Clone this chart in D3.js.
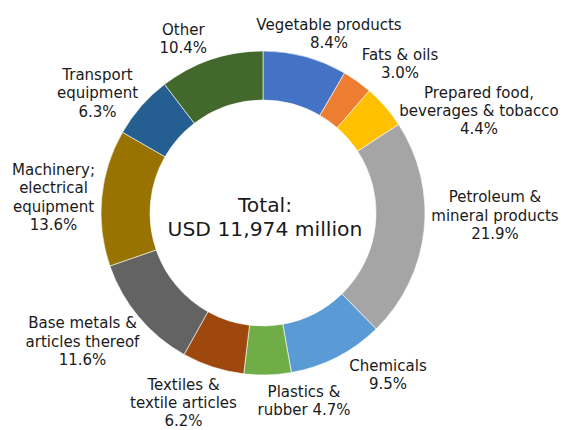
<!DOCTYPE html>
<html>
<head>
<meta charset="utf-8">
<script src="https://cdn.jsdelivr.net/npm/d3@7"></script>
<style>
  body { margin: 0; background: #fff; }
  text { font-family: "DejaVu Sans", Verdana, sans-serif; fill: #1a1a1a; }
</style>
</head>
<body>
<div id="viz"></div>
<script>
// data, clockwise from 12 o'clock
const categories = ['Vegetable products', 'Fats & oils', 'Prepared food', 'Petroleum & mineral products',
  'Chemicals', 'Plastics & rubber', 'Textiles & textile articles', 'Base metals & articles thereof',
  'Machinery; electrical equipment', 'Transport equipment', 'Other'];
const shares = [8.4, 3.0, 4.4, 21.9, 9.5, 4.7, 6.2, 11.6, 13.6, 6.3, 10.4];
const colors = ['#4472C4', '#ED7D31', '#FFC000', '#A5A5A5', '#5B9BD5', '#70AD47',
  '#9E480E', '#636363', '#997300', '#255E91', '#43682B'];
// how each label wraps, {p} = percentage
const labelLines = [
  ['Vegetable products', '{p}'],
  ['Fats & oils', '{p}'],
  ['Prepared food,', 'beverages & tobacco', '{p}'],
  ['Petroleum &', 'mineral products', '{p}'],
  ['Chemicals', '{p}'],
  ['Plastics &', 'rubber {p}'],
  ['Textiles &', 'textile articles', '{p}'],
  ['Base metals &', 'articles thereof', '{p}'],
  ['Machinery;', 'electrical', 'equipment', '{p}'],
  ['Transport', 'equipment', '{p}'],
  ['Other', '{p}']
];
const totalLines = ['Total:', 'USD 11,974 million'];

// layout
const width = 564, height = 430;
const cx = 263, cy = 213;
const outerR = 162, innerR = 113;
const lineH = 18.3;
// label anchor (centre x, first baseline y)
const labelPos = [[329, 30], [400, 60], [479, 97.7], [495, 202.3], [388, 371], [304, 396.7],
  [183.5, 390], [82.5, 328.3], [53.5, 175], [97.5, 80], [183.3, 35]];

const svg = d3.select('#viz')
  .append('svg')
  .attr('width', width)
  .attr('height', height);

const pie = d3.pie().sort(null).value(d => d);
const arc = d3.arc().innerRadius(innerR).outerRadius(outerR);

const g = svg.append('g')
  .attr('transform', `translate(${cx} ${cy})`);

g.selectAll('path')
  .data(pie(shares))
  .join('path')
  .attr('d', arc)
  .attr('fill', (d, i) => colors[i])
  .attr('stroke', '#fff')
  .attr('stroke-width', 0.6);

const fmt = d3.format('.1f');

const labels = svg.append('g')
  .attr('font-size', 15)
  .attr('text-anchor', 'middle');

labelLines.forEach((lines, i) => {
  const t = labels.append('text')
    .attr('x', labelPos[i][0])
    .attr('y', labelPos[i][1]);
  lines.forEach((ln, j) => {
    t.append('tspan')
      .attr('x', labelPos[i][0])
      .attr('dy', j === 0 ? 0 : (i === 6 ? 18 : lineH))
      .text(ln.replace('{p}', fmt(shares[i]) + '%'));
  });
});

const total = svg.append('text')
  .attr('x', 265)
  .attr('y', 212)
  .attr('font-size', 20.3)
  .attr('text-anchor', 'middle');

totalLines.forEach((ln, j) => {
  total.append('tspan')
    .attr('x', 265)
    .attr('dy', j === 0 ? 0 : 24.3)
    .text(ln);
});
</script>
</body>
</html>
